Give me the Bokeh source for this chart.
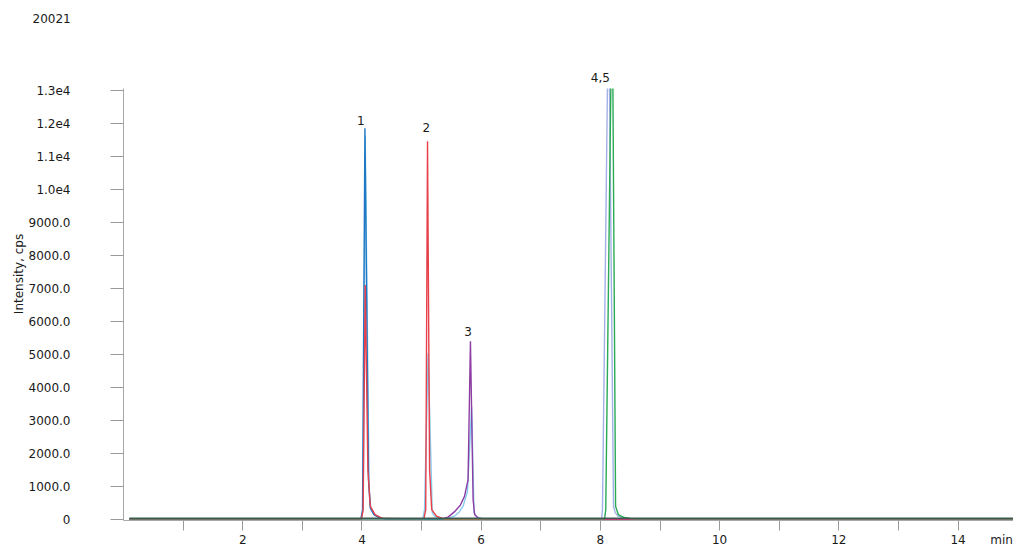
from bokeh.plotting import figure
from bokeh.models import FixedTicker, Range1d, LabelSet, ColumnDataSource
from bokeh.core.properties import value
from bokeh.embed import file_html
from bokeh.resources import INLINE

FONT = "DejaVu Sans"
TXT = "#1a1a1a"
NAN = float("nan")

# ---- data (time in min, intensity in cps) ----
# peaks 4 and 5 run off the top of the scale: their visible sides end at the axis top (gap = off scale)
Y_TOP = 13050

t_lightblue = [0.1, 3.99, 4.02, 4.055, 4.12, 4.15, 4.22, 4.35, 5.02, 5.05, 5.11, 5.18, 5.22, 5.32,
               5.42, 5.55, 5.63, 5.70, 5.77, 5.84, 5.88, 5.93, 6.02, 14.93]
i_lightblue = [10, 10, 300, 11600, 1000, 300, 120, 20, 20, 300, 5030, 200, 100, 20,
               20, 100, 220, 420, 850, 3420, 200, 80, 20, 20]

t_lavender = [0.1, 8.02, 8.035, 8.118, 8.135, 8.153, 8.22, 8.25, 8.30, 8.40, 14.93]
i_lavender = [20, 20, 300, Y_TOP, NAN, Y_TOP, 400, 200, 100, 30, 20]

t_blue = [0.1, 3.98, 4.01, 4.05, 4.11, 4.14, 4.20, 4.30, 4.40, 14.93]
i_blue = [0, 0, 300, 11850, 1200, 350, 150, 50, 10, 10]

t_red = [0.1, 3.99, 4.02, 4.055, 4.10, 4.14, 4.22, 4.35, 5.04, 5.07, 5.10, 5.135, 5.17, 5.25, 5.40, 14.93]
i_red = [0, 0, 300, 7100, 1500, 400, 150, 30, 20, 300, 11450, 1500, 300, 100, 0, 0]

t_purple = [0.1, 5.35, 5.45, 5.55, 5.65, 5.72, 5.78, 5.82, 5.865, 5.89, 5.95, 6.05, 14.93]
i_purple = [20, 20, 80, 230, 430, 700, 1200, 5400, 600, 150, 40, 20, 20]

t_green = [0.1, 8.07, 8.09, 8.175, 8.19, 8.21, 8.255, 8.30, 8.40, 8.50, 8.60, 14.93]
i_green = [20, 20, 300, Y_TOP, NAN, Y_TOP, 400, 150, 60, 30, 20, 20]

t_dark = [0.1, 14.93]
i_dark = [40, 40]

y_tick_values = [0, 1000, 2000, 3000, 4000, 5000, 6000, 7000, 8000, 9000, 10000, 11000, 12000, 13000]
y_tick_labels = ["0", "1000.0", "2000.0", "3000.0", "4000.0", "5000.0", "6000.0", "7000.0",
                 "8000.0", "9000.0", "1.0e4", "1.1e4", "1.2e4", "1.3e4"]
x_label_ticks = [2, 4, 6, 8, 10, 12, 14, 14.73]
x_tick_labels = ["2", "4", "6", "8", "10", "12", "14", "min"]
x_tick_marks = [1, 2, 3, 4, 5, 6, 7, 8, 9, 10, 11, 12, 13, 14]

peak_text = ["1", "2", "3", "4,5"]
peak_x = [3.98, 5.08, 5.78, 8.0]
peak_y = [12090, 11870, 5690, 13385]

# ---- figure ----
p = figure(width=1013, height=550, output_backend="svg", toolbar_location=None,
           x_range=Range1d(0, 14.93), y_range=Range1d(-30, 14897),
           min_border_left=123, min_border_right=0, min_border_top=27, min_border_bottom=30,
           title="20021")
p.grid.visible = False
p.outline_line_color = None

p.title.align = "left"
p.title.offset = -91
p.title.text_font = FONT
p.title.text_font_size = "12px"
p.title.text_font_style = "normal"
p.title.text_color = TXT

series = [
    (t_lightblue, i_lightblue, "#86cdf0"),
    (t_lavender, i_lavender, "#a3b0e6"),
    (t_blue, i_blue, "#1f78c4"),
    (t_red, i_red, "#e8404a"),
    (t_purple, i_purple, "#8e3ea3"),
    (t_green, i_green, "#2aaa55"),
    (t_dark, i_dark, "#3d5a4f"),
]
for t, i, c in series:
    p.line(t, i, line_color=c, line_width=1.4)

# y axis
ya = p.yaxis[0]
ya.bounds = (-30, Y_TOP)
ya.ticker = FixedTicker(ticks=y_tick_values)
ya.major_label_overrides = dict(zip(y_tick_values, y_tick_labels))
ya.major_tick_out = 13
ya.major_tick_in = 0
ya.minor_tick_line_color = None
ya.axis_line_color = "#a8a8a8"
ya.major_tick_line_color = "#9a9a9a"
ya.major_label_standoff = 40
ya.major_label_text_font = FONT
ya.major_label_text_font_size = "12px"
ya.major_label_text_color = TXT
ya.axis_label = "Intensity, cps"
ya.axis_label_text_font = FONT
ya.axis_label_text_font_size = "12px"
ya.axis_label_text_font_style = "normal"
ya.axis_label_text_color = TXT
ya.axis_label_standoff = 0

# x axis
xa = p.xaxis[0]
xa.ticker = FixedTicker(ticks=x_label_ticks, minor_ticks=x_tick_marks)
xa.major_label_overrides = dict(zip(x_label_ticks, x_tick_labels))
xa.major_tick_out = 8
xa.major_tick_in = 0
xa.major_tick_line_color = None
xa.minor_tick_out = 10
xa.minor_tick_in = 0
xa.minor_tick_line_color = "#9a9a9a"
xa.axis_line_color = "#a8a8a8"
xa.major_label_standoff = 2
xa.major_label_text_font = FONT
xa.major_label_text_font_size = "12px"
xa.major_label_text_color = TXT

src = ColumnDataSource(dict(x=peak_x, y=peak_y, text=peak_text))
labels = LabelSet(x="x", y="y", text="text", source=src, text_align="center",
                  text_baseline="middle", text_font=value(FONT), text_font_size=value("12px"),
                  text_color=TXT)
p.add_layout(labels)

open("out.html", "w").write(file_html(p, INLINE))
